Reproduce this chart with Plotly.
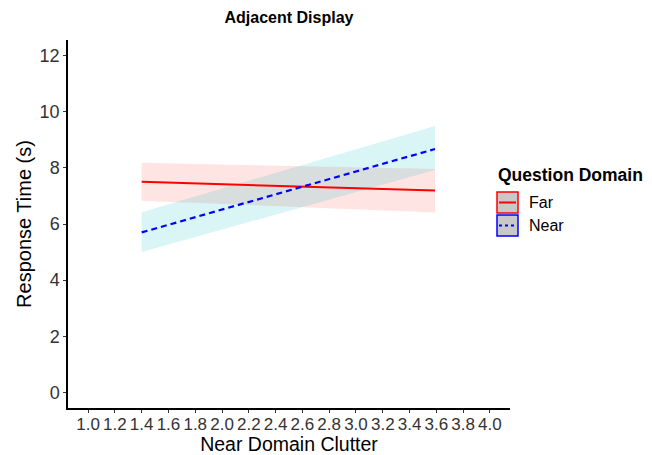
import plotly.graph_objects as go

# Data
x_ends = [1.4, 3.59]
far_fit = [7.50, 7.19]
far_lo = [6.83, 6.41]
far_hi = [8.18, 7.96]
near_fit = [5.70, 8.67]
near_lo = [5.00, 7.92]
near_hi = [6.42, 9.49]
x_ticks = [1.0 + 0.2 * i for i in range(16)]
x_ticktext = ["%.1f" % v for v in x_ticks]
y_ticks = [0, 2, 4, 6, 8, 10, 12]

FONT = "Liberation Sans, Arial, Helvetica, sans-serif"

fig = go.Figure()

def band(lo, hi, color):
    fig.add_trace(go.Scatter(
        x=x_ends + x_ends[::-1], y=hi + lo[::-1],
        fill="toself", fillcolor=color, line=dict(width=0),
        mode="lines", hoverinfo="skip", showlegend=False))

band(far_lo, far_hi, "rgba(248,118,109,0.2)")
band(near_lo, near_hi, "rgba(0,191,196,0.15)")

fig.add_trace(go.Scatter(x=x_ends, y=far_fit, mode="lines",
                         line=dict(color="#ff0000", width=2), name="Far", showlegend=False))
fig.add_trace(go.Scatter(x=x_ends, y=near_fit, mode="lines",
                         line=dict(color="#0000ff", width=2.2, dash="6px,4px"), name="Near", showlegend=False))

# Manual legend (ggplot style keys)
L, W, T, H = 68, 442, 40, 368
def px(xp):
    return (xp - L) / W
def py(yp):
    return 1 - (yp - T) / H

legend_items = [("Far", "#ff0000", "solid"), ("Near", "#0000ff", "dot")]
fig.add_annotation(text="<b>Question Domain</b>", xref="paper", yref="paper",
                   x=px(496), y=py(175), xanchor="left", yanchor="middle",
                   showarrow=False, font=dict(family=FONT, size=17.5, color="black"))
for i, (lab, col, dash) in enumerate(legend_items):
    top = 192 + i * 23
    x0, x1 = px(497), px(518)
    y0, y1 = py(top + 21), py(top)
    fig.add_shape(type="rect", xref="paper", yref="paper", x0=x0, x1=x1, y0=y0, y1=y1,
                  fillcolor="#c8c8c8", line=dict(color=col, width=1.5))
    fig.add_shape(type="line", xref="paper", yref="paper", x0=px(499), x1=px(516),
                  y0=(y0 + y1) / 2, y1=(y0 + y1) / 2, line=dict(color=col, width=2, dash=dash))
    fig.add_annotation(text=lab, xref="paper", yref="paper", x=px(527), y=(y0 + y1) / 2,
                       xanchor="left", yanchor="middle", showarrow=False,
                       font=dict(family=FONT, size=16, color="black"))

fig.update_layout(
    width=652, height=455,
    margin=dict(l=68, r=142, t=40, b=47),
    paper_bgcolor="white", plot_bgcolor="white",
    font=dict(family=FONT, color="black"),
    title=dict(text="<b>Adjacent Display</b>", x=289 / 652, xanchor="center",
               y=1 - 17 / 455, yanchor="middle", font=dict(family=FONT, size=16, color="black")),
    showlegend=False,
)
fig.update_xaxes(range=[0.85, 4.15], tickvals=x_ticks, ticktext=x_ticktext, tickangle=0,
                 automargin=False, ticklabelstandoff=-3,
                 showgrid=False, zeroline=False, showline=True, linecolor="black", linewidth=1.5,
                 ticks="outside", ticklen=3, tickcolor="#333333",
                 tickfont=dict(family=FONT, size=17, color="#333333"),
                 title=dict(text="Near Domain Clutter", font=dict(family=FONT, size=19.5, color="black"), standoff=2))
fig.update_yaxes(range=[-0.55, 12.55], tickvals=y_ticks, automargin=False,
                 showgrid=False, zeroline=False, showline=True, linecolor="black", linewidth=1.5,
                 ticks="outside", ticklen=3, tickcolor="#333333",
                 tickfont=dict(family=FONT, size=18, color="#333333"),
                 title=dict(text="Response Time (s)", font=dict(family=FONT, size=20, color="black"), standoff=3))

fig.write_html("out.html")
